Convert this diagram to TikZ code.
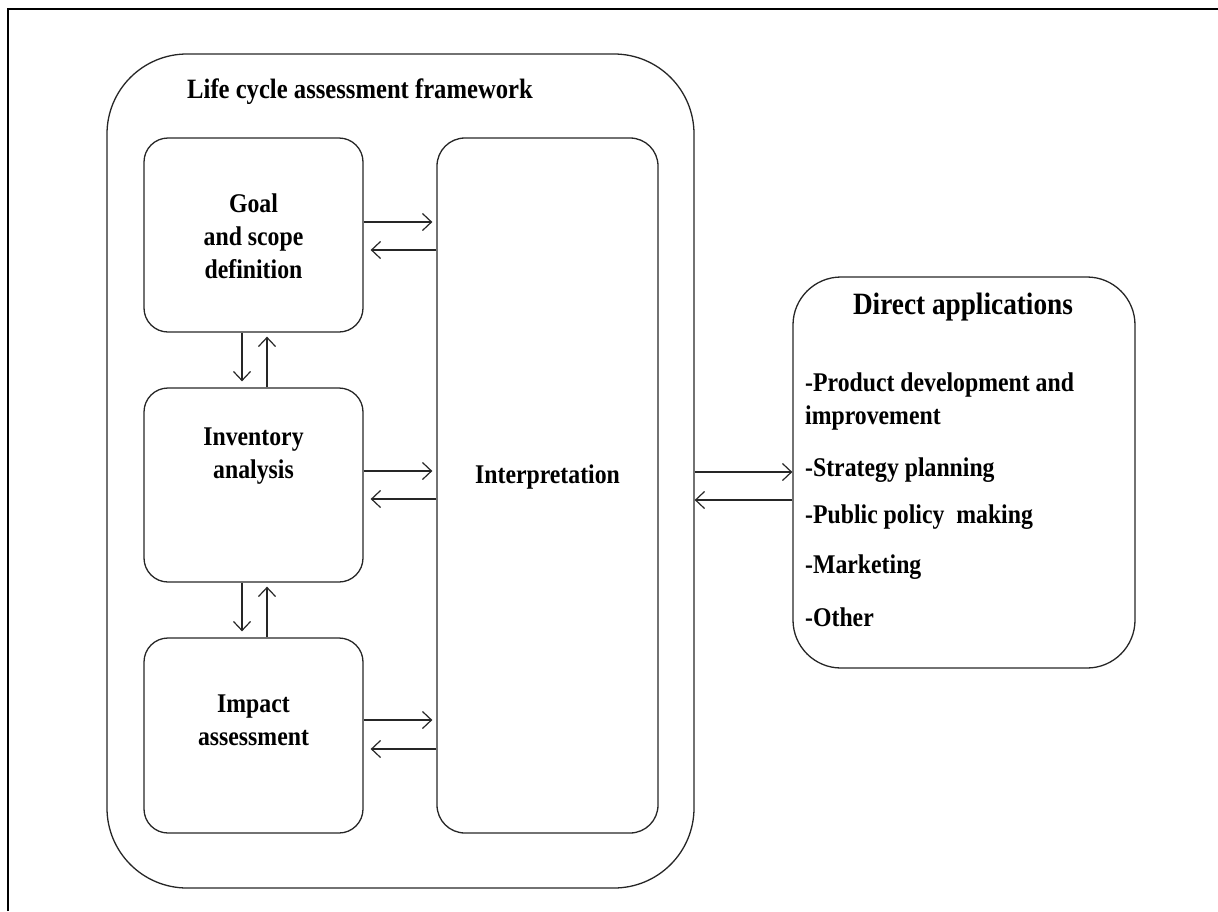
\documentclass[tikz,border=0pt]{standalone}
\usepackage{fontspec}
\setmainfont{Liberation Serif}[FakeStretch=0.88]
\usetikzlibrary{arrows.meta}
\begin{document}
\begin{tikzpicture}[x=1pt,y=-1pt,
  box/.style={draw=black!85, line width=1.3pt, rectangle, inner sep=0pt},
  txt/.style={font=\bfseries\fontsize{27}{33}\selectfont, align=center, inner sep=0pt},
  ttl/.style={font=\bfseries\fontsize{28}{33}\selectfont, align=center, inner sep=0pt},
  item/.style={font=\bfseries\fontsize{27}{33}\selectfont, anchor=west, inner sep=0pt},
  arr/.style={draw=black!85, line width=1.2pt, -{Straight Barb[length=9pt,width=17pt,line width=1.2pt]}}]
\useasboundingbox (0,0) rectangle (1218,911);

% page frame (only left and top edges are visible)
\draw[line width=2.6pt] (8,911) -- (8,9) -- (1218,9);

% framework container and its boxes
\node[box, rounded corners=80pt, minimum width=587pt, minimum height=834pt] (frame) at (400.5,471) {};
\node[ttl] (frametitle) at (360,92) {Life cycle assessment framework};

\node[box, rounded corners=24pt, minimum width=219pt, minimum height=194pt] (goal) at (253.5,235) {};
\node[box, rounded corners=24pt, minimum width=219pt, minimum height=194pt] (inv) at (253.5,485) {};
\node[box, rounded corners=24pt, minimum width=219pt, minimum height=195pt] (imp) at (253.5,735.5) {};
\node[box, rounded corners=28pt, minimum width=221pt, minimum height=695pt] (interp) at (547.5,485.5) {};

\node[txt] (goaltxt) at (253.5,236) {Goal\\and scope\\definition};
\node[txt] (invtxt) at (253.5,456) {Inventory\\analysis};
\node[txt] (imptxt) at (253.5,720) {Impact\\assessment};
\node[txt] (interptxt) at (547.5,477) {Interpretation};

% direct applications box
\node[box, rounded corners=48pt, minimum width=342pt, minimum height=391pt] (direct) at (964,472.5) {};
\node[ttl, font=\bfseries\fontsize{31}{33}\selectfont] (directtitle) at (963,307) {Direct applications};
\node[item] (a1) at (805,385) {-Product development and};
\node[item] (a1b) at (805,418) {improvement};
\node[item] (a2) at (805,470) {-Strategy planning};
\node[item] (a3) at (805,517) {-Public policy\ \ making};
\node[item] (a4) at (805,567) {-Marketing};
\node[item] (a5) at (805,617) {-Other};

% horizontal exchanges with interpretation
\draw[arr] (goal.east |- 0,222) -- ([xshift=-4pt]interp.west |- 0,222);
\draw[arr] (interp.west |- 0,250) -- ([xshift=7pt]goal.east |- 0,250);
\draw[arr] (inv.east |- 0,471) -- ([xshift=-4pt]interp.west |- 0,471);
\draw[arr] (interp.west |- 0,499) -- ([xshift=7pt]inv.east |- 0,499);
\draw[arr] (imp.east |- 0,720) -- ([xshift=-4pt]interp.west |- 0,720);
\draw[arr] (interp.west |- 0,749) -- ([xshift=7pt]imp.east |- 0,749);

% vertical exchanges between phases
\draw[arr] (goal.south -| 242,0) -- ([yshift=6pt]inv.north -| 242,0);
\draw[arr] (inv.north -| 267,0) -- ([yshift=-4pt]goal.south -| 267,0);
\draw[arr] (inv.south -| 242,0) -- ([yshift=6pt]imp.north -| 242,0);
\draw[arr] (imp.north -| 267,0) -- ([yshift=-4pt]inv.south -| 267,0);

% exchange with direct applications
\draw[arr] (frame.east |- 0,472) -- (direct.west |- 0,472);
\draw[arr] (direct.west |- 0,500) -- (frame.east |- 0,500);
\end{tikzpicture}
\end{document}
